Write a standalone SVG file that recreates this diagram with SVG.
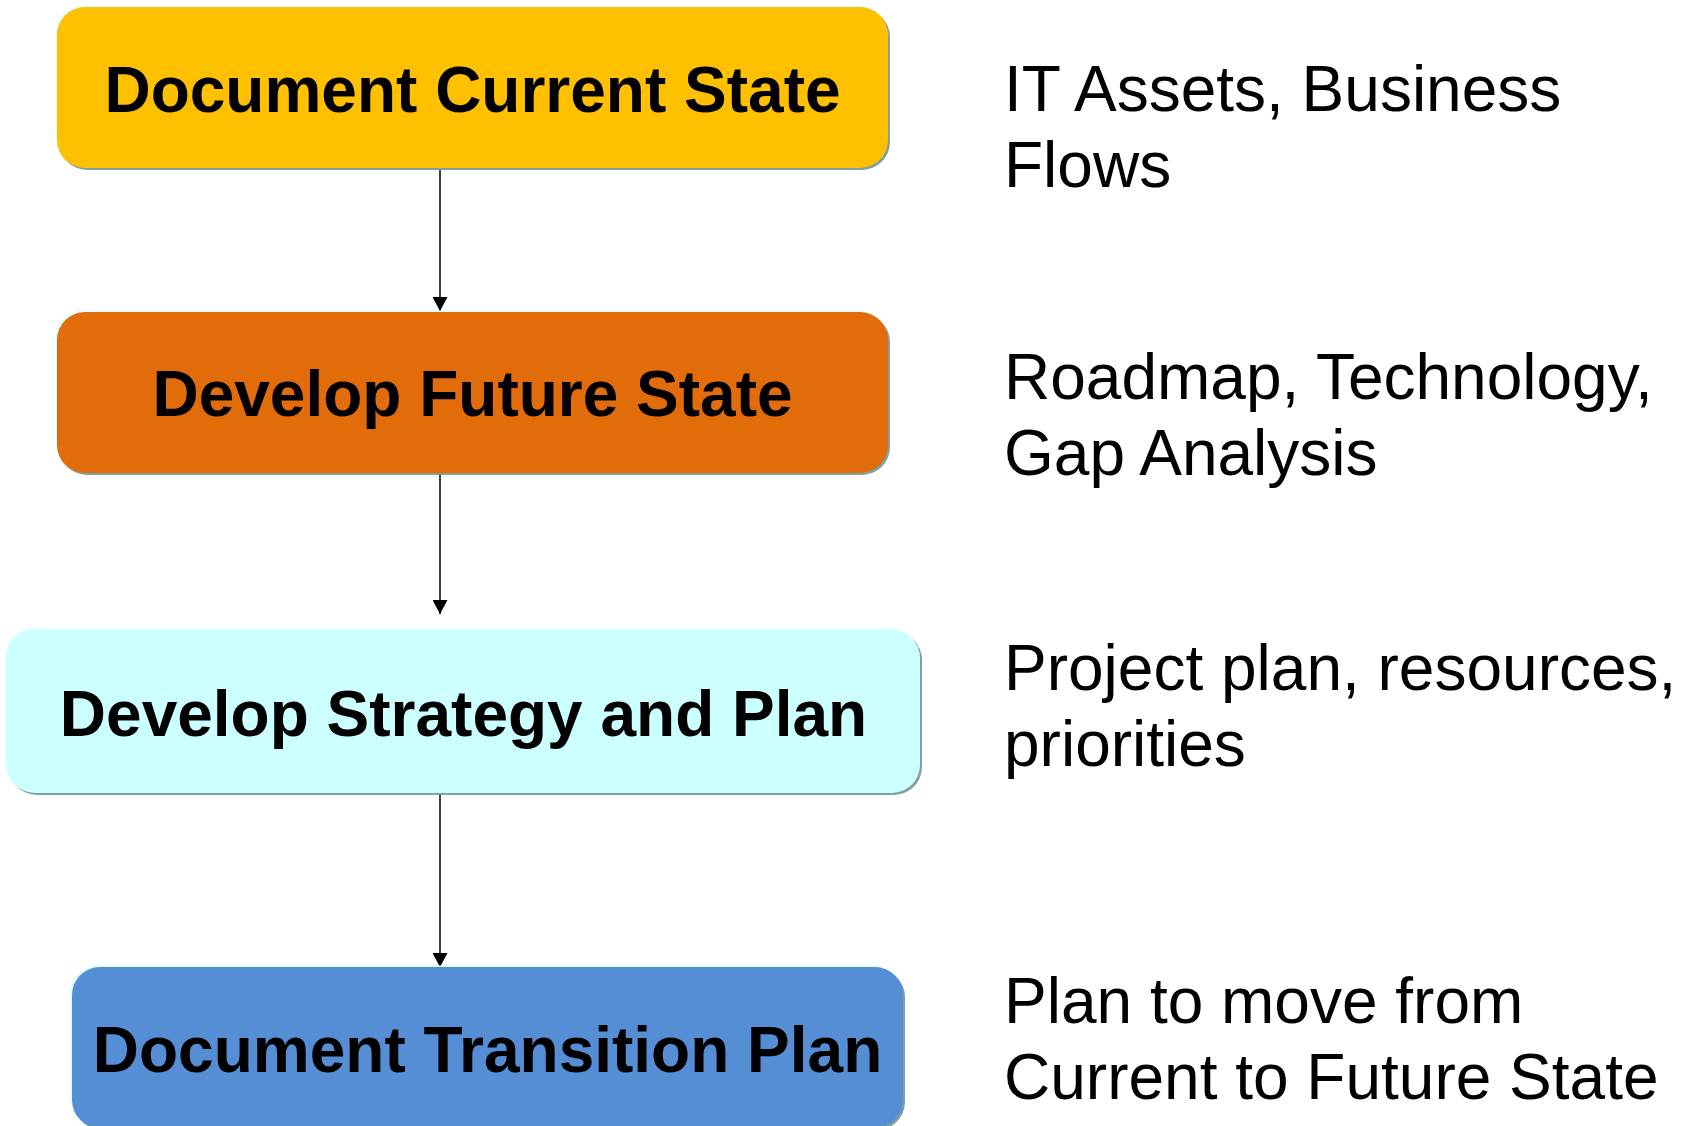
<svg xmlns="http://www.w3.org/2000/svg" width="1693" height="1126" viewBox="0 0 1693 1126">
  <style>
    .shadow { fill: #7FA0A0; }
    .hl { fill: #D8FFFF; }
    .label { font-family: "Liberation Sans", Arial, sans-serif; font-weight: bold; font-size: 64px; fill: #000; text-anchor: middle; }
    .note { font-family: "Liberation Sans", Arial, sans-serif; font-size: 64px; fill: #000; }
    .conn { stroke: #000; stroke-width: 1.5; fill: none; }
  </style>
  <defs>
    <marker id="arrow" markerUnits="userSpaceOnUse" markerWidth="15" markerHeight="15" refX="14" refY="7.5" orient="auto">
      <path d="M0,0 L14,7.5 L0,15 z" fill="#000"/>
    </marker>
  </defs>
  <rect width="1693" height="1126" fill="#fff"/>

  <g id="connectors">
    <line class="conn" x1="440" y1="168" x2="440" y2="311" marker-end="url(#arrow)"/>
    <line class="conn" x1="440" y1="473" x2="440" y2="614" marker-end="url(#arrow)"/>
    <line class="conn" x1="440" y1="793" x2="440" y2="967" marker-end="url(#arrow)"/>
  </g>

  <g id="node-current">
    <rect class="shadow" x="59" y="9" width="831" height="161" rx="28"/>
    <rect class="hl" x="55.5" y="5.5" width="831" height="161" rx="28"/>
    <rect x="57" y="7" width="831" height="161" rx="28" fill="#FFC000"/>
    <text class="label" x="472.5" y="112">Document Current State</text>
  </g>

  <g id="node-future">
    <rect class="shadow" x="59" y="314" width="831" height="161" rx="28"/>
    <rect class="hl" x="55.5" y="310.5" width="831" height="161" rx="28"/>
    <rect x="57" y="312" width="831" height="161" rx="28" fill="#E36C0A"/>
    <text class="label" x="472.5" y="416">Develop Future State</text>
  </g>

  <g id="node-strategy">
    <rect class="shadow" x="9" y="632" width="913" height="163" rx="28"/>
    <rect class="hl" x="5.5" y="628.5" width="913" height="163" rx="28"/>
    <rect x="7" y="630" width="913" height="163" rx="28" fill="#CCFFFF"/>
    <text class="label" x="463.5" y="736">Develop Strategy and Plan</text>
  </g>

  <g id="node-transition">
    <rect class="shadow" x="74" y="969" width="831" height="161" rx="28"/>
    <rect class="hl" x="70.5" y="965.5" width="831" height="161" rx="28"/>
    <rect x="72" y="967" width="831" height="161" rx="28" fill="#558ED5"/>
    <text class="label" x="487.5" y="1072">Document Transition Plan</text>
  </g>

  <g id="notes">
    <text class="note" x="1004" y="111">IT Assets, Business</text>
    <text class="note" x="1004" y="187">Flows</text>
    <text class="note" x="1004" y="399">Roadmap, Technology,</text>
    <text class="note" x="1004" y="475">Gap Analysis</text>
    <text class="note" x="1004" y="690">Project plan, resources,</text>
    <text class="note" x="1004" y="766">priorities</text>
    <text class="note" x="1004" y="1023">Plan to move from</text>
    <text class="note" x="1004" y="1099">Current to Future State</text>
  </g>
</svg>
